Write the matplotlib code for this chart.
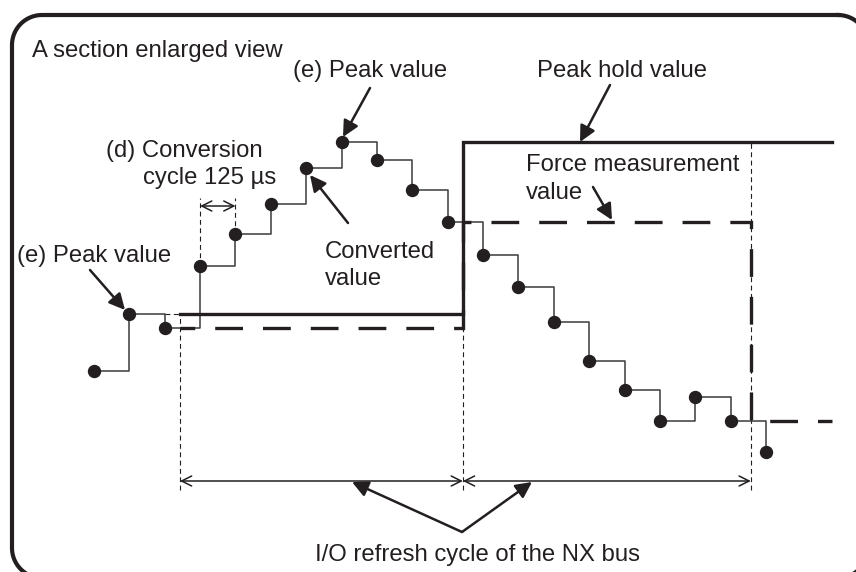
import matplotlib
matplotlib.use("Agg")
import matplotlib.pyplot as plt
import matplotlib.transforms as mtransforms
from matplotlib.lines import Line2D
import numpy as np

plt.rcParams["font.family"] = ["Liberation Sans", "DejaVu Sans"]
plt.rcParams["lines.scale_dashes"] = False

INK = "#231f20"
W, H = 856, 572
FS = 17.2

# converted values, one per 125 us conversion cycle
samples = np.arange(20)
converted = [12.9, 18.6, 17.2, 23.4, 26.6, 29.6, 33.2, 35.8, 34.0, 31.0,
             27.8, 24.5, 21.3, 17.8, 13.9, 11.0, 7.9, 10.3, 7.9, 4.8]
# I/O refresh instants of the NX bus, in conversion cycles
refresh = [2.43, 10.43, 18.57]
end_t = 20.87

conv = np.array(converted)
peak_hold = [conv[samples <= r].max() for r in refresh]
force = [conv[samples <= r][-1] for r in refresh]


def rounded_outline(x0, y0, x1, y1, r):
    # corner arcs in picture pixels (y downwards), joined into one closed line
    xs, ys = [], []
    corners = [(x1 - r, y0 + r, -90, 0), (x1 - r, y1 - r, 0, 90),
               (x0 + r, y1 - r, 90, 180), (x0 + r, y0 + r, 180, 270)]
    for cx, cy, a0, a1 in corners:
        a = np.radians(np.linspace(a0, a1, 20))
        xs.extend(cx + r * np.cos(a))
        ys.extend(cy + r * np.sin(a))
    xs.append(xs[0])
    ys.append(ys[0])
    return xs, ys


fig = plt.figure(figsize=(W / 100, H / 100), dpi=100)
ax = fig.add_axes([0, 0, 1, 1])
ax.set_xlim(-2.6576, 21.544)
ax.set_ylim(-7.2, 50)
ax.axis("off")

# picture pixels -> figure, only used for the frame, labels and pointers
px = mtransforms.Affine2D().scale(1 / W, -1 / H).translate(0, 1) + fig.transFigure

fx, fy = rounded_outline(12, 15, 868, 578, 30)
fig.add_artist(Line2D(fx, fy, transform=px, color=INK, lw=3, solid_joinstyle="round"))

thin_dash = (0, (3.5, 2.5))

# refresh guide lines
guide_top = [peak_hold[0], force[1], peak_hold[2]]
for r, top in zip(refresh, guide_top):
    ax.plot([r, r], [1.0, top], color=INK, lw=0.8, ls=thin_dash)
ax.plot([2, refresh[0]], [peak_hold[0]] * 2, color=INK, lw=0.8, ls=thin_dash)

# conversion cycle guides
for s in (3, 4):
    ax.plot([s, s], [conv[s], 30.2], color=INK, lw=0.8, ls=thin_dash)
ax.annotate("", xy=(3, 29.4), xytext=(4, 29.4),
            arrowprops=dict(arrowstyle="<->", lw=1.1, color=INK,
                            shrinkA=0, shrinkB=0, mutation_scale=18))

# converted values
ax.plot(samples, conv, drawstyle="steps-post", color="#3a3a3a", lw=1.1)
ax.plot(samples, conv, "o", color=INK, ms=8.6)

# peak hold and force measurement values
steps_t = refresh + [end_t]
ax.plot(steps_t, peak_hold + [peak_hold[-1]], drawstyle="steps-post",
        color=INK, lw=2.4, solid_joinstyle="miter")
ax.plot(steps_t, force + [force[-1]], drawstyle="steps-post",
        color=INK, lw=2.4, ls=(9.4, (20, 14.4)), dash_joinstyle="miter")

# I/O refresh cycle arrows
for a, b in zip(refresh[:-1], refresh[1:]):
    ax.annotate("", xy=(a, 1.9), xytext=(b, 1.9),
                arrowprops=dict(arrowstyle="<->", lw=1.1, color=INK,
                                shrinkA=0, shrinkB=0, mutation_scale=18))

# pointers
pointers = [
    ((370, 88), (343, 137)),
    ((348, 223), (310, 175)),
    ((90, 270), (125, 310)),
    ((610, 85), (580, 142)),
    ((593, 187), (612, 220)),
    ((462, 532), (352, 482)),
    ((462, 532), (532, 482)),
]
for start, tip in pointers:
    ax.annotate("", xy=tip, xycoords=px, xytext=start, textcoords=px,
                arrowprops=dict(arrowstyle="-|>", lw=1.8, color=INK,
                                shrinkA=0, shrinkB=0, mutation_scale=24))

labels = [
    ("A section enlarged view", 32, 57),
    ("(e) Peak value", 293, 77),
    ("Peak hold value", 537, 77),
    ("(d) Conversion", 106, 157),
    ("cycle 125 µs", 143, 184),
    ("Converted", 325, 258),
    ("value", 325, 285),
    ("(e) Peak value", 17, 262),
    ("Force measurement", 526, 171),
    ("value", 526, 199),
    ("I/O refresh cycle of the NX bus", 315, 561),
]
for s, x, y in labels:
    fig.text(x, y, s, transform=px, fontsize=FS, color=INK, ha="left", va="baseline")

fig.savefig("out.png", dpi=100)
plt.close(fig)
